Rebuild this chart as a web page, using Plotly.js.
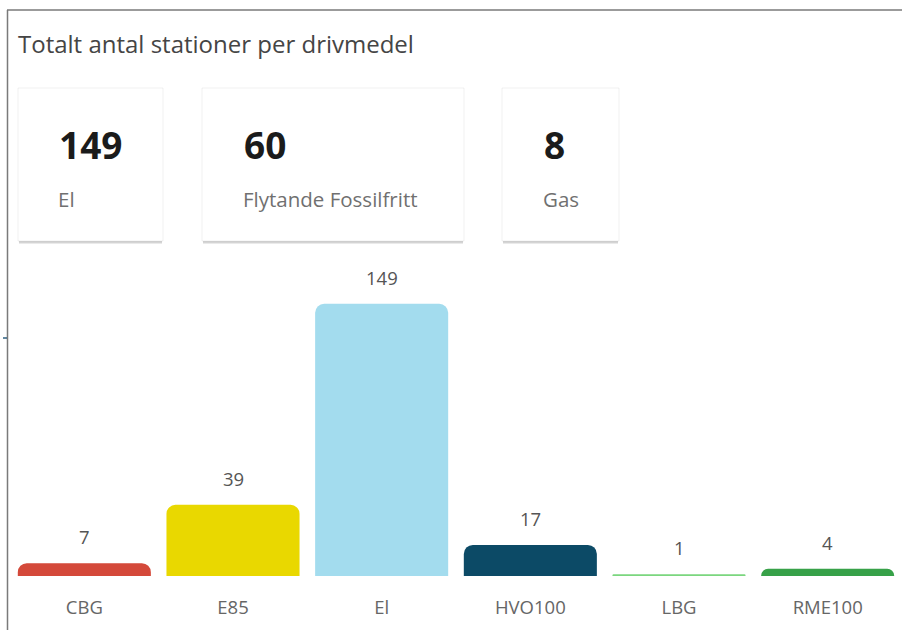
<!DOCTYPE html>
<html>
<head>
<meta charset="utf-8">
<script src="https://cdn.plot.ly/plotly-3.0.1.min.js"></script>
<style>
  html, body { margin: 0; padding: 0; background: #ffffff; }
  #chart { width: 902px; height: 630px; }
</style>
</head>
<body>
<div id="chart"></div>
<script>
// ---- data ----
const chartTitle = 'Totalt antal stationer per drivmedel';
const categories = ['CBG', 'E85', 'El', 'HVO100', 'LBG', 'RME100'];
const stationCounts = [7, 39, 149, 17, 1, 4];
const barColors = ['#D4493A', '#E9D800', '#A3DCEE', '#0C4A66', '#7BD67F', '#37A148'];
const cardValues = [149, 60, 8];
const cardLabels = ['El', 'Flytande Fossilfritt', 'Gas'];

// ---- layout helpers (pixel -> paper) ----
const W = 902, H = 630;
const M = { l: 10, r: 0, t: 270, b: 54 };
const PW = W - M.l - M.r, PH = H - M.t - M.b;
const px = x => (x - M.l) / PW;
const py = y => (H - M.b - y) / PH;

const FONT = '"Open Sans", "Noto Sans", sans-serif';

const shapes = [];
const annotations = [];

// outer frame (top and left edges)
shapes.push({ type: 'line', xref: 'paper', yref: 'paper', x0: px(7.5), x1: px(7.5), y0: py(10), y1: py(640), line: { color: '#7a7a7a', width: 1.5 } });
shapes.push({ type: 'line', xref: 'paper', yref: 'paper', x0: px(7), x1: px(910), y0: py(10), y1: py(10), line: { color: '#7a7a7a', width: 1.5 } });
shapes.push({ type: 'line', xref: 'paper', yref: 'paper', x0: px(3), x1: px(7), y0: py(338), y1: py(338), line: { color: '#2e5f80', width: 1.5 } });

// title
annotations.push({ xref: 'paper', yref: 'paper', x: px(16), y: py(43), xanchor: 'left', yanchor: 'middle', showarrow: false,
  text: chartTitle, font: { family: FONT, size: 24, color: '#454545' } });

// KPI cards
const cardBoxes = [
  { x0: 18, x1: 163, tx: 58 },
  { x0: 202, x1: 464, tx: 243 },
  { x0: 502, x1: 619, tx: 543 }
];
const cardTop = 88, cardBottom = 241;
cardBoxes.forEach((b, i) => {
  shapes.push({ type: 'rect', xref: 'paper', yref: 'paper', x0: px(b.x0 + 1), x1: px(b.x1 - 1), y0: py(cardTop + 3), y1: py(cardBottom + 2.5),
    fillcolor: 'rgba(0,0,0,0.17)', line: { width: 0 }, layer: 'below' });
  shapes.push({ type: 'rect', xref: 'paper', yref: 'paper', x0: px(b.x0), x1: px(b.x1), y0: py(cardTop), y1: py(cardBottom),
    fillcolor: '#ffffff', line: { color: 'rgba(0,0,0,0.06)', width: 1 }, layer: 'below' });
  annotations.push({ xref: 'paper', yref: 'paper', x: px(b.tx - 1), y: py(145), xanchor: 'left', yanchor: 'middle', showarrow: false,
    text: '<b>' + cardValues[i] + '</b>', font: { family: FONT, size: 37, color: '#1b1b1b' } });
  annotations.push({ xref: 'paper', yref: 'paper', x: px(b.tx - 2), y: py(199), xanchor: 'left', yanchor: 'middle', showarrow: false,
    text: cardLabels[i], font: { family: FONT, size: 20.5, color: '#707070' } });
});

// value labels above bars
categories.forEach((c, i) => {
  annotations.push({ x: c, y: stationCounts[i], xref: 'x', yref: 'y', yanchor: 'bottom', yshift: 12, showarrow: false,
    text: String(stationCounts[i]), font: { family: FONT, size: 18.5, color: '#555555' } });
});

const trace = {
  type: 'bar',
  x: categories,
  y: stationCounts,
  marker: { color: barColors, cornerradius: 9, line: { width: 0 } },
  hoverinfo: 'x+y'
};

const layout = {
  width: W, height: H,
  margin: M,
  paper_bgcolor: '#ffffff',
  plot_bgcolor: '#ffffff',
  showlegend: false,
  bargap: 0.105,
  xaxis: {
    type: 'category', range: [-0.5, 5.5],
    showgrid: false, zeroline: false, showline: false, ticks: '',
    ticklabelstandoff: 18,
    tickfont: { family: FONT, size: 18.5, color: '#666666' }
  },
  yaxis: {
    range: [0, 167.5], showgrid: false, zeroline: false, showline: false,
    showticklabels: false, ticks: '', fixedrange: true
  },
  shapes: shapes,
  annotations: annotations
};

Plotly.newPlot('chart', [trace], layout, { displayModeBar: false, staticPlot: true });
</script>
</body>
</html>
